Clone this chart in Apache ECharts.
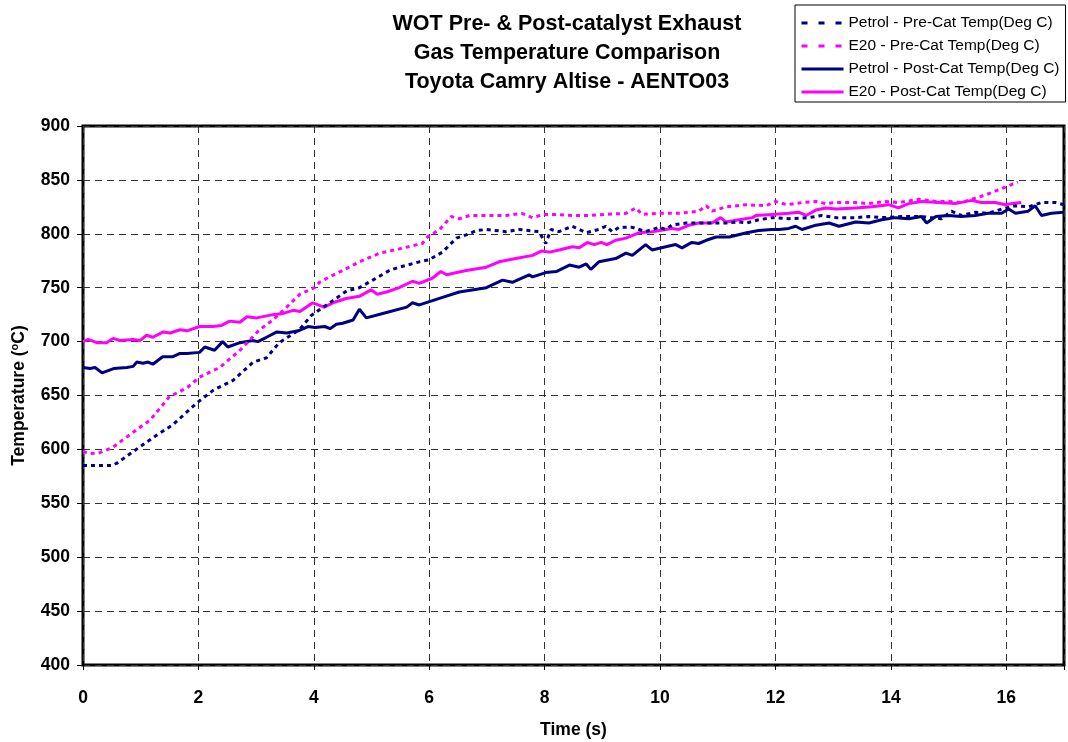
<!DOCTYPE html>
<html>
<head>
<meta charset="utf-8">
<script src="https://cdn.jsdelivr.net/npm/echarts@6/dist/echarts.min.js"></script>
<style>
html,body{margin:0;padding:0;background:#fff;}
#chart{width:1068px;height:742px;}
</style>
</head>
<body>
<div id="chart"></div>
<script>
var seriesNames = ['Petrol - Pre-Cat Temp(Deg C)', 'E20 - Pre-Cat Temp(Deg C)', 'Petrol - Post-Cat Temp(Deg C)', 'E20 - Post-Cat Temp(Deg C)'];
var xTicks = [0, 2, 4, 6, 8, 10, 12, 14, 16];
var yTicks = [400, 450, 500, 550, 600, 650, 700, 750, 800, 850, 900];

var petrolPreTime = [0,0.25,0.5,0.58,0.87,1.27,1.56,1.97,2.26,2.6,2.95,3.18,3.4,3.75,3.95,4.33,4.57,4.79,5.02,5.31,5.48,5.83,6.0,6.23,6.47,6.64,6.82,6.99,7.33,7.56,7.9,8.02,8.11,8.25,8.48,8.72,8.94,9.06,9.17,9.29,9.52,9.75,9.98,10.1,10.2,10.45,10.67,10.9,11.14,11.37,11.5,11.71,11.94,12.23,12.58,12.8,13.05,13.39,13.62,13.84,14.19,14.53,14.88,15.05,15.22,15.46,15.69,15.92,16.16,16.38,16.61,16.85,17];
var petrolPreTemp = [585,585,585,587,598,613,623,643,655,664,681,685,699,711,724,738,747,750,757,766,769,774,776,783,796,799,803,804,802,804,802,791,804,802,807,801,804,807,802,806,806,802,806,804,808,810,810,810,810,811,810,813,815,814,815,817,815,815,816,815,816,816,814,821,817,820,819,823,826,825,829,829,827];

var e20PreTime = [0,0.12,0.29,0.52,0.87,1.16,1.5,1.8,2.02,2.37,2.72,3.06,3.29,3.53,3.76,4.01,4.1,4.27,4.5,4.79,5.14,5.48,5.88,5.97,6.18,6.38,6.52,6.7,6.99,7.33,7.6,7.79,7.99,8.2,8.48,8.77,9.06,9.41,9.58,9.69,9.98,10.33,10.67,10.8,10.9,11.14,11.5,11.84,12.0,12.2,12.46,12.7,12.87,13.05,13.39,13.62,13.9,14.13,14.48,14.78,15.0,15.22,15.52,15.74,15.92,16.2];
var e20PreTemp = [598,596,597,602,616,627,649,657,667,676,692,711,720,732,744,750,755,760,766,774,782,786,791,797,804,816,814,817,817,817,819,815,818,818,817,817,818,819,824,818,819,819,821,826,821,825,827,826,830,827,829,830,828,829,829,828,830,829,832,830,830,829,834,838,842,848];

var petrolPostTime = [0,0.12,0.21,0.33,0.53,0.76,0.87,0.93,1.04,1.13,1.21,1.38,1.56,1.68,1.8,2.02,2.11,2.28,2.42,2.51,2.72,2.94,3.03,3.18,3.36,3.53,3.73,3.9,4.02,4.19,4.28,4.39,4.5,4.68,4.79,4.91,5.26,5.61,5.71,5.83,6.23,6.52,6.99,7.27,7.44,7.73,7.79,8.02,8.2,8.43,8.6,8.72,8.8,8.94,9.23,9.41,9.52,9.75,9.86,10.1,10.27,10.38,10.55,10.67,10.8,10.97,11.2,11.5,11.71,11.94,12.06,12.23,12.35,12.46,12.7,12.93,13.1,13.39,13.62,13.84,14.08,14.31,14.53,14.62,14.78,15.0,15.22,15.46,15.69,15.92,16.04,16.16,16.38,16.5,16.61,16.78,17];
var petrolPostTemp = [676,675,676,671,675,676,677,681,680,681,679,686,686,689,689,690,695,692,700,695,699,701,700,704,709,708,710,714,713,714,712,716,717,720,730,722,727,732,736,734,741,746,750,757,755,762,760,764,765,771,769,772,767,774,777,782,780,790,785,788,790,787,792,791,794,797,797,801,803,804,804,805,807,804,808,810,807,811,810,813,815,814,816,810,816,817,816,817,819,819,823,819,821,826,817,819,820];

var e20PostTime = [0,0.09,0.24,0.41,0.52,0.64,0.87,0.99,1.1,1.21,1.39,1.51,1.68,1.8,2.02,2.25,2.4,2.54,2.72,2.84,3.01,3.29,3.46,3.64,3.76,3.98,4.18,4.33,4.56,4.79,4.99,5.1,5.26,5.48,5.71,5.83,6.06,6.2,6.3,6.64,6.99,7.21,7.5,7.79,7.94,8.09,8.25,8.48,8.6,8.74,8.86,8.98,9.08,9.23,9.41,9.64,9.86,10.1,10.2,10.33,10.5,10.67,10.9,11.05,11.14,11.37,11.6,11.66,11.94,12.23,12.4,12.53,12.7,12.87,13.05,13.39,13.67,13.96,14.13,14.31,14.53,14.83,15.12,15.4,15.57,15.81,15.98,16.09,16.26];
var e20PostTemp = [700,702,699,699,703,701,702,701,706,704,709,708,711,710,714,714,715,719,718,723,722,725,726,729,728,736,732,736,740,742,748,744,746,750,756,754,759,765,762,766,769,774,777,780,784,783,785,788,787,792,790,792,790,794,796,801,802,804,805,804,808,810,810,815,811,813,815,817,818,819,820,817,822,824,823,824,825,827,824,828,830,829,828,831,829,829,827,828,829];

function zip(t, v) { return t.map(function (x, i) { return [x, v[i]]; }); }

var NAVY = '#000080', MAG = '#FF00FF';
var FONT = 'Arial, "Liberation Sans", sans-serif';
var chart = echarts.init(document.getElementById('chart'), null, {renderer: 'canvas'});
function mk(name, data, color, dashed) {
  return {
    name: name, type: 'line', data: data, showSymbol: false, symbol: 'none',
    smooth: false, z: dashed ? 3 : 2,
    lineStyle: {color: color, width: 3, type: dashed ? [4, 4] : 'solid'},
    itemStyle: {color: color}
  };
}
chart.setOption({
  animation: false,
  backgroundColor: '#fff',
  textStyle: {fontFamily: FONT},
  title: {
    text: 'WOT Pre- & Post-catalyst Exhaust\nGas Temperature Comparison\nToyota Camry Altise - AENTO03',
    left: 562, top: 5, textAlign: 'center',
    textStyle: {fontSize: 21.5, fontWeight: 'bold', color: '#000', lineHeight: 29, fontFamily: FONT}
  },
  legend: {
    orient: 'vertical', left: 795, top: 5,
    itemWidth: 42, itemHeight: 2, itemGap: 5,
    borderColor: '#000', borderWidth: 1, padding: [9, 6, 1, 5],
    itemStyle: {opacity: 0},
    textStyle: {fontSize: 15.5, color: '#000', lineHeight: 18, fontFamily: FONT},
    data: [
      {name: seriesNames[0], lineStyle: {type: [6, 11], width: 3}},
      {name: seriesNames[1], lineStyle: {type: [6, 11], width: 3}},
      {name: seriesNames[2], lineStyle: {width: 3}},
      {name: seriesNames[3], lineStyle: {width: 3}}
    ]
  },
  grid: {left: 83, right: 4, top: 126, bottom: 77, show: true, borderColor: '#000', borderWidth: 3, outerBoundsMode: 'none', containLabel: false},
  xAxis: {
    type: 'value', min: 0, max: 17, interval: 2,
    name: 'Time (s)', nameLocation: 'middle', nameGap: 56,
    nameTextStyle: {fontSize: 17.5, fontWeight: 'bold', color: '#000'},
    axisLine: {show: false},
    axisTick: {show: true, inside: false, length: 5, lineStyle: {color: '#000'}},
    axisLabel: {fontSize: 17.5, fontWeight: 'bold', color: '#000', margin: 24,
      formatter: function (v) { return xTicks.indexOf(v) >= 0 ? String(v) : ''; }},
    splitLine: {show: true, lineStyle: {color: '#333', width: 1, type: [7, 5]}}
  },
  yAxis: {
    type: 'value', min: 400, max: 900, interval: 50,
    name: 'Temperature ({sup|o}C)', nameLocation: 'middle', nameGap: 53,
    nameTextStyle: {fontSize: 17.5, fontWeight: 'bold', color: '#000',
      rich: {sup: {fontSize: 11, fontWeight: 'bold', color: '#000', padding: [0, 0, 10, 0]}}},
    axisLine: {show: false},
    axisTick: {show: true, inside: false, length: 6, lineStyle: {color: '#000'}},
    axisLabel: {fontSize: 17.5, fontWeight: 'bold', color: '#000', margin: 13,
      formatter: function (v) { return yTicks.indexOf(v) >= 0 ? String(v) : ''; }},
    splitLine: {show: true, lineStyle: {color: '#333', width: 1, type: [7, 5]}}
  },
  series: [
    mk(seriesNames[0], zip(petrolPreTime, petrolPreTemp), NAVY, true),
    mk(seriesNames[1], zip(e20PreTime, e20PreTemp), MAG, true),
    mk(seriesNames[2], zip(petrolPostTime, petrolPostTemp), NAVY, false),
    mk(seriesNames[3], zip(e20PostTime, e20PostTemp), MAG, false)
  ]
});
</script>
</body>
</html>
